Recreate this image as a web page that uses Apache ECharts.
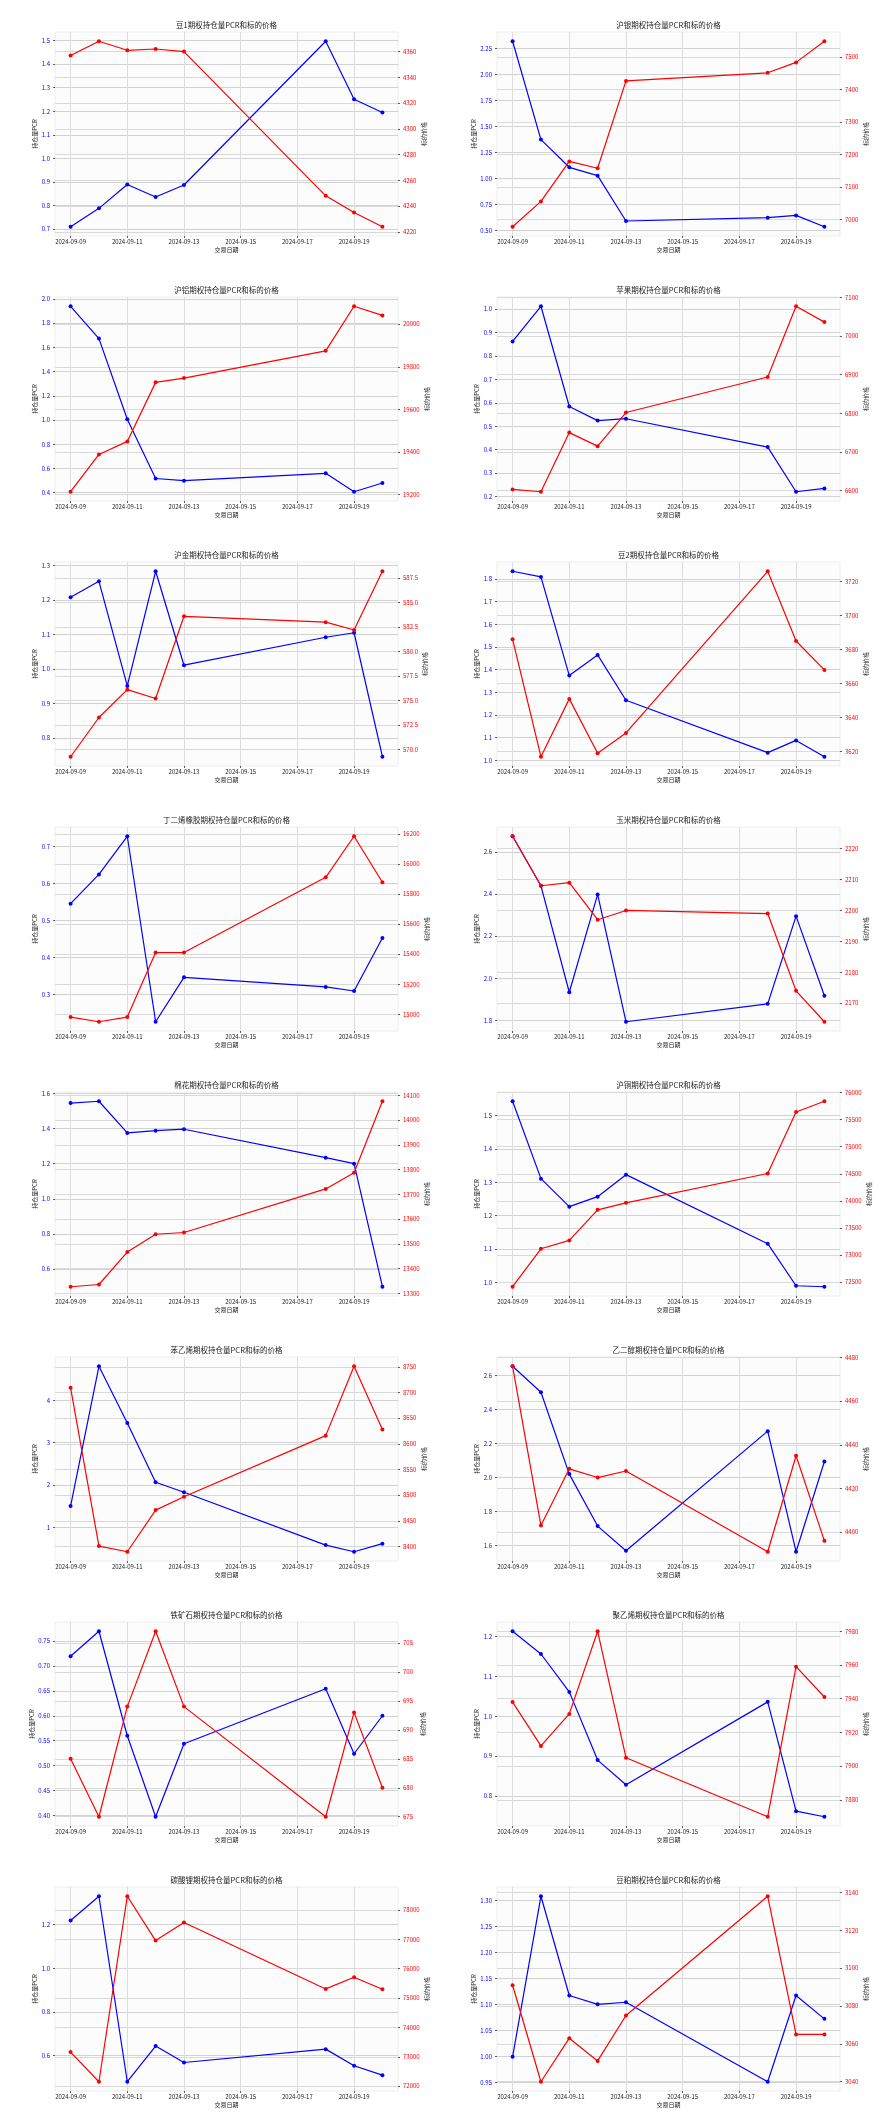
<!DOCTYPE html>
<html><head><meta charset="utf-8">
<script src="https://cdn.jsdelivr.net/npm/echarts@6/dist/echarts.min.js"></script>
<style>html,body{margin:0;padding:0;background:#fff}#c{width:884px;height:2120px}</style>
</head><body><div id="c"></div>
<script>
// ---- data ----
const dates = ['2024-09-09','2024-09-10','2024-09-11','2024-09-12','2024-09-13','2024-09-18','2024-09-19','2024-09-20'];
const xTicks = ['2024-09-09','2024-09-11','2024-09-13','2024-09-15','2024-09-17','2024-09-19'];

const pcrDou1 = [0.710,0.788,0.889,0.836,0.887,1.497,1.251,1.195];
const priceDou1 = [4357,4368,4361,4362,4360,4248,4235,4224];
const pcrTicksDou1 = ['0.7','0.8','0.9','1.0','1.1','1.2','1.3','1.4','1.5'];
const priceTicksDou1 = ['4220','4240','4260','4280','4300','4320','4340','4360'];

const pcrAg = [2.317,1.372,1.106,1.026,0.590,0.622,0.644,0.535];
const priceAg = [6977,7055,7178,7157,7426,7451,7483,7548];
const pcrTicksAg = ['0.50','0.75','1.00','1.25','1.50','1.75','2.00','2.25'];
const priceTicksAg = ['7000','7100','7200','7300','7400','7500'];

const pcrAl = [1.939,1.672,1.006,0.517,0.499,0.560,0.408,0.480];
const priceAl = [19214,19389,19450,19727,19747,19875,20084,20041];
const pcrTicksAl = ['0.4','0.6','0.8','1.0','1.2','1.4','1.6','1.8','2.0'];
const priceTicksAl = ['19200','19400','19600','19800','20000'];

const pcrApple = [0.861,1.011,0.584,0.524,0.532,0.411,0.221,0.235];
const priceApple = [6603,6597,6750,6715,6802,6894,7077,7036];
const pcrTicksApple = ['0.2','0.3','0.4','0.5','0.6','0.7','0.8','0.9','1.0'];
const priceTicksApple = ['6600','6700','6800','6900','7000','7100'];

const pcrAu = [1.208,1.254,0.951,1.283,1.011,1.092,1.105,0.746];
const priceAu = [569.25,573.26,576.1,575.2,583.6,583.0,582.2,588.2];
const pcrTicksAu = ['0.8','0.9','1.0','1.1','1.2','1.3'];
const priceTicksAu = ['570.0','572.5','575.0','577.5','580.0','582.5','585.0','587.5'];

const pcrDou2 = [1.834,1.809,1.374,1.465,1.265,1.034,1.088,1.016];
const priceDou2 = [3686,3617,3651,3619,3631,3726,3685,3668];
const pcrTicksDou2 = ['1.0','1.1','1.2','1.3','1.4','1.5','1.6','1.7','1.8'];
const priceTicksDou2 = ['3620','3640','3660','3680','3700','3720'];

const pcrBr = [0.545,0.624,0.727,0.226,0.346,0.320,0.309,0.452];
const priceBr = [14982,14951,14982,15411,15411,15911,16184,15878];
const pcrTicksBr = ['0.3','0.4','0.5','0.6','0.7'];
const priceTicksBr = ['15000','15200','15400','15600','15800','16000','16200'];

const pcrCorn = [2.674,2.439,1.934,2.398,1.794,1.879,2.295,1.917];
const priceCorn = [2224,2208,2209,2197,2200,2199,2174,2164];
const pcrTicksCorn = ['1.8','2.0','2.2','2.4','2.6'];
const priceTicksCorn = ['2170','2180','2190','2200','2210','2220'];

const pcrCotton = [1.545,1.555,1.375,1.388,1.396,1.234,1.200,0.500];
const priceCotton = [13327,13336,13467,13539,13546,13722,13787,14076];
const pcrTicksCotton = ['0.6','0.8','1.0','1.2','1.4','1.6'];
const priceTicksCotton = ['13300','13400','13500','13600','13700','13800','13900','14000','14100'];

const pcrCu = [1.543,1.311,1.227,1.257,1.323,1.116,0.990,0.987];
const priceCu = [72414,73115,73269,73835,73964,74506,75643,75840];
const pcrTicksCu = ['1.0','1.1','1.2','1.3','1.4','1.5'];
const priceTicksCu = ['72500','73000','73500','74000','74500','75000','75500','76000'];

const pcrEb = [1.510,4.800,3.466,2.070,1.835,0.590,0.434,0.623];
const priceEb = [8709,8401,8390,8471,8497,8616,8751,8628];
const pcrTicksEb = ['1','2','3','4'];
const priceTicksEb = ['8400','8450','8500','8550','8600','8650','8700','8750'];

const pcrEg = [2.655,2.502,2.020,1.714,1.569,2.273,1.563,2.094];
const priceEg = [4476,4403,4429,4425,4428,4391,4435,4396];
const pcrTicksEg = ['1.6','1.8','2.0','2.2','2.4','2.6'];
const priceTicksEg = ['4400','4420','4440','4460','4480'];

const pcrIron = [0.719,0.769,0.560,0.398,0.544,0.654,0.524,0.600];
const priceIron = [685,675,694,707,694,675,693,680];
const pcrTicksIron = ['0.40','0.45','0.50','0.55','0.60','0.65','0.70','0.75'];
const priceTicksIron = ['675','680','685','690','695','700','705'];

const pcrPe = [1.213,1.156,1.061,0.890,0.828,1.036,0.762,0.748];
const pricePe = [7938,7912,7931,7980,7905,7870,7959,7941];
const pcrTicksPe = ['0.8','0.9','1.0','1.1','1.2'];
const priceTicksPe = ['7880','7900','7920','7940','7960','7980'];

const pcrLc = [1.218,1.329,0.481,0.644,0.569,0.630,0.554,0.511];
const priceLc = [73159,72150,78465,76955,77570,75310,75710,75300];
const pcrTicksLc = ['0.6','0.8','1.0','1.2'];
const priceTicksLc = ['72000','73000','74000','75000','76000','77000','78000'];

const pcrMeal = [0.999,1.308,1.117,1.100,1.104,0.951,1.117,1.072];
const priceMeal = [3091,3040,3063,3051,3075,3138,3065,3065];
const pcrTicksMeal = ['0.95','1.00','1.05','1.10','1.15','1.20','1.25','1.30'];
const priceTicksMeal = ['3040','3060','3080','3100','3120','3140'];

const titles = ['豆1','沪银','沪铝','苹果','沪金','豆2','丁二烯橡胶','玉米','棉花','沪铜','苯乙烯','乙二醇','铁矿石','聚乙烯','碳酸锂','豆粕'];

const panels = [
  [pcrDou1, priceDou1, pcrTicksDou1, priceTicksDou1],
  [pcrAg, priceAg, pcrTicksAg, priceTicksAg],
  [pcrAl, priceAl, pcrTicksAl, priceTicksAl],
  [pcrApple, priceApple, pcrTicksApple, priceTicksApple],
  [pcrAu, priceAu, pcrTicksAu, priceTicksAu],
  [pcrDou2, priceDou2, pcrTicksDou2, priceTicksDou2],
  [pcrBr, priceBr, pcrTicksBr, priceTicksBr],
  [pcrCorn, priceCorn, pcrTicksCorn, priceTicksCorn],
  [pcrCotton, priceCotton, pcrTicksCotton, priceTicksCotton],
  [pcrCu, priceCu, pcrTicksCu, priceTicksCu],
  [pcrEb, priceEb, pcrTicksEb, priceTicksEb],
  [pcrEg, priceEg, pcrTicksEg, priceTicksEg],
  [pcrIron, priceIron, pcrTicksIron, priceTicksIron],
  [pcrPe, pricePe, pcrTicksPe, priceTicksPe],
  [pcrLc, priceLc, pcrTicksLc, priceTicksLc],
  [pcrMeal, priceMeal, pcrTicksMeal, priceTicksMeal]
];

// ---- chart ----
const FONT = '"Noto Sans CJK SC", "Noto Sans", sans-serif';
const chart = echarts.init(document.getElementById('c'), null, {renderer: 'canvas'});
const pad = v => 0.05 * (v.max - v.min);
const toTime = d => +echarts.time.parse(d);
const lbl = (ticks, v) => {
  for (const t of ticks) if (Math.abs(Number(t) - v) < 1e-6 * Math.max(1, Math.abs(v))) return t;
  return '';
};
const xTickVals = xTicks.map(toTime);
const option = {animation: false, backgroundColor: '#ffffff', title: [], grid: [], xAxis: [], yAxis: [], series: []};

panels.forEach((p, i) => {
  const [pcr, price, pcrTicks, priceTicks] = p;
  const col = i % 2, row = Math.floor(i / 2);
  const left = col ? 497 : 55;
  const top = row * 265 + 32;
  option.grid.push({left: left, top: top, width: 343, height: 204, show: true,
    backgroundColor: '#fcfcfc', borderColor: '#eeeeee', borderWidth: 1});
  option.title.push({text: titles[i] + '期权持仓量PCR和标的价格', left: left + 171.5, top: row * 265 + 21,
    textAlign: 'center', padding: 0,
    textStyle: {fontFamily: FONT, fontSize: 7.5, fontWeight: 'normal', color: '#222'}});
  option.xAxis.push({type: 'value', gridIndex: i,
    min: v => v.min - pad(v), max: v => v.max + pad(v),
    name: '交易日期', nameLocation: 'middle', nameGap: 11,
    nameTextStyle: {fontFamily: FONT, fontSize: 6, color: '#222'},
    axisLine: {show: false},
    axisTick: {show: true, length: 2, customValues: xTickVals, lineStyle: {color: '#333', width: 0.8}},
    axisLabel: {customValues: xTickVals, formatter: v => echarts.time.format(v, '{yyyy}-{MM}-{dd}', false),
      fontFamily: FONT, fontSize: 6, color: '#222', margin: 3, hideOverlap: false},
    splitLine: {show: true, lineStyle: {color: '#dddddd', width: 1}}
  });
  const pv = pcrTicks.map(Number), rv = priceTicks.map(Number);
  option.yAxis.push({type: 'value', gridIndex: i, position: 'left',
    min: v => v.min - pad(v), max: v => v.max + pad(v),
    name: '持仓量PCR', nameLocation: 'middle', nameGap: 17, nameRotate: 90,
    nameTextStyle: {fontFamily: FONT, fontSize: 6, color: '#222'},
    axisLine: {show: false},
    axisTick: {show: true, length: 2, customValues: pv, lineStyle: {color: '#333', width: 0.8}},
    axisLabel: {customValues: pv, formatter: v => lbl(pcrTicks, v), fontFamily: FONT, fontSize: 6, color: '#0000ff', margin: 5},
    splitLine: {show: true, lineStyle: {color: '#d2d2d2', width: 1}}
  });
  option.yAxis.push({type: 'value', gridIndex: i, position: 'right',
    min: v => v.min - pad(v), max: v => v.max + pad(v),
    name: '标的价格', nameLocation: 'middle', nameGap: 22, nameRotate: 90,
    nameTextStyle: {fontFamily: FONT, fontSize: 6, color: '#222'},
    axisLine: {show: false},
    axisTick: {show: true, length: 2, customValues: rv, lineStyle: {color: '#333', width: 0.8}},
    axisLabel: {customValues: rv, formatter: v => lbl(priceTicks, v), fontFamily: FONT, fontSize: 6, color: '#ff0000', margin: 5},
    splitLine: {show: true, lineStyle: {color: '#d9d9d9', width: 1}}
  });
  option.series.push({type: 'line', name: '持仓量PCR', xAxisIndex: i, yAxisIndex: 2 * i,
    data: dates.map((d, k) => [toTime(d), pcr[k]]),
    symbol: 'circle', symbolSize: 4, color: '#0000ff',
    lineStyle: {color: '#0000ff', width: 1.2}, itemStyle: {color: '#0000ff'}, z: 3});
  option.series.push({type: 'line', name: '标的价格', xAxisIndex: i, yAxisIndex: 2 * i + 1,
    data: dates.map((d, k) => [toTime(d), price[k]]),
    symbol: 'circle', symbolSize: 4, color: '#ff0000',
    lineStyle: {color: '#ff0000', width: 1.2}, itemStyle: {color: '#ff0000'}, z: 4});
});
chart.setOption(option);
</script>
</body></html>
